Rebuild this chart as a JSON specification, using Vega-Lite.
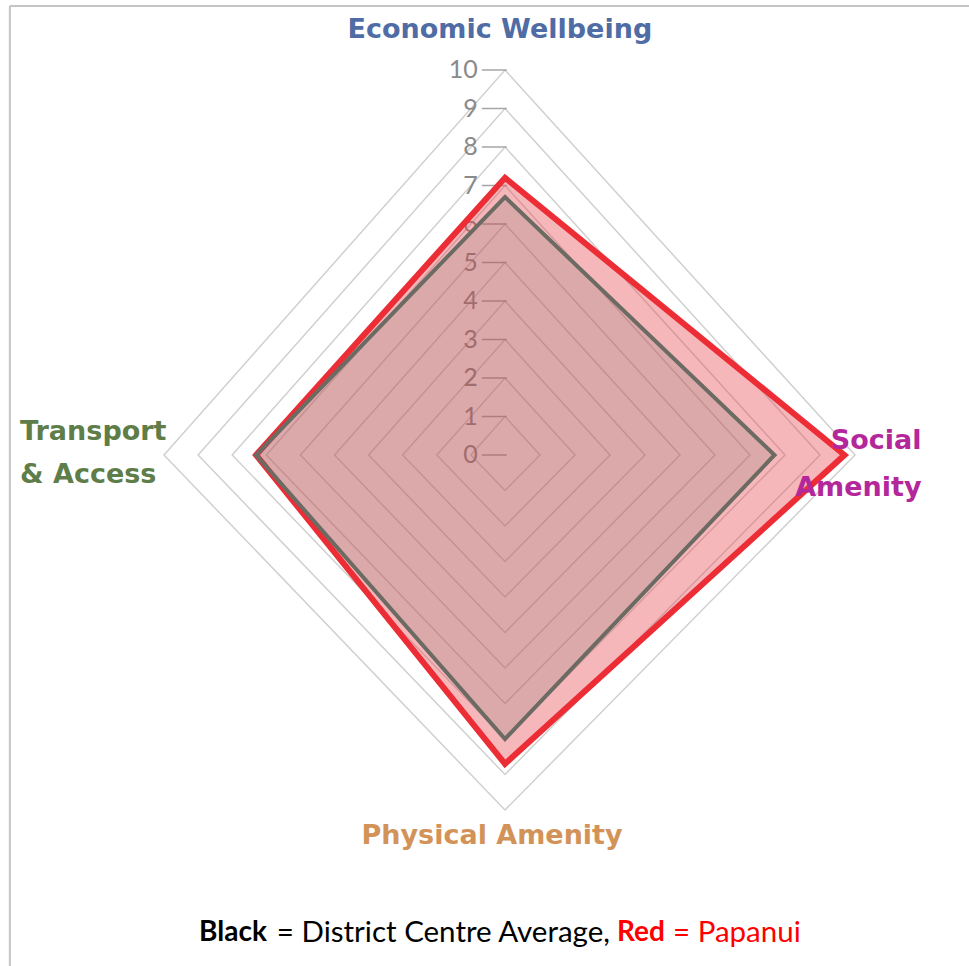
{
  "$schema": "https://vega.github.io/schema/vega-lite/v6.json",
  "width": 969,
  "height": 966,
  "autosize": "none",
  "padding": 0,
  "background": "white",
  "config": {"view": {"stroke": null}},
  "datasets": {
    "scores": [
      {"series": "Papanui", "axis": "Economic Wellbeing", "k": 0, "value": 7.2},
      {"series": "Papanui", "axis": "Social Amenity", "k": 1, "value": 9.7},
      {"series": "Papanui", "axis": "Physical Amenity", "k": 2, "value": 8.7},
      {"series": "Papanui", "axis": "Transport & Access", "k": 3, "value": 7.3},
      {"series": "District Centre Average", "axis": "Economic Wellbeing", "k": 0, "value": 6.7},
      {"series": "District Centre Average", "axis": "Social Amenity", "k": 1, "value": 7.7},
      {"series": "District Centre Average", "axis": "Physical Amenity", "k": 2, "value": 8.0},
      {"series": "District Centre Average", "axis": "Transport & Access", "k": 3, "value": 7.3}
    ],
    "grid": [
      {"level": 1, "k": [0, 1, 2, 3]},
      {"level": 2, "k": [0, 1, 2, 3]},
      {"level": 3, "k": [0, 1, 2, 3]},
      {"level": 4, "k": [0, 1, 2, 3]},
      {"level": 5, "k": [0, 1, 2, 3]},
      {"level": 6, "k": [0, 1, 2, 3]},
      {"level": 7, "k": [0, 1, 2, 3]},
      {"level": 8, "k": [0, 1, 2, 3]},
      {"level": 9, "k": [0, 1, 2, 3]},
      {"level": 10, "k": [0, 1, 2, 3]}
    ],
    "ticks": [
      {"level": 0}, {"level": 1}, {"level": 2}, {"level": 3}, {"level": 4}, {"level": 5},
      {"level": 6}, {"level": 7}, {"level": 8}, {"level": 9}, {"level": 10}
    ],
    "one": [{}]
  },
  "layer": [
    {
      "data": {"name": "grid"},
      "transform": [
        {"flatten": ["k"]},
        {"calculate": "datum.level * sin(datum.k * PI / 2)", "as": "px"},
        {"calculate": "datum.level * cos(datum.k * PI / 2)", "as": "py"}
      ],
      "mark": {"type": "line", "interpolate": "linear-closed", "stroke": "#d0d0d0", "strokeWidth": 1.5},
      "encoding": {
        "x": {"field": "px", "type": "quantitative", "axis": null,
              "scale": {"type": "linear", "domain": [-10, 0, 10], "range": [164, 505, 855], "nice": false, "zero": false}},
        "y": {"field": "py", "type": "quantitative", "axis": null,
              "scale": {"type": "linear", "domain": [-10, 0, 10], "range": [810, 455, 70], "nice": false, "zero": false}},
        "detail": {"field": "level", "type": "nominal"},
        "order": {"field": "k", "type": "quantitative"}
      }
    },
    {
      "data": {"name": "ticks"},
      "mark": {"type": "rule", "stroke": "#a6a6a6", "strokeWidth": 1.5},
      "encoding": {
        "x": {"datum": -0.68, "type": "quantitative"},
        "x2": {"datum": 0.05},
        "y": {"field": "level", "type": "quantitative"}
      }
    },
    {
      "data": {"name": "ticks"},
      "mark": {"type": "text", "align": "right", "baseline": "middle", "font": "Lato", "fontSize": 25, "color": "#8a8a8a"},
      "encoding": {
        "x": {"datum": -0.8, "type": "quantitative"},
        "y": {"field": "level", "type": "quantitative"},
        "text": {"field": "level", "type": "quantitative"}
      }
    },
    {
      "data": {"name": "scores"},
      "transform": [
        {"filter": "datum.series === 'Papanui'"},
        {"calculate": "datum.value * sin(datum.k * PI / 2)", "as": "px"},
        {"calculate": "datum.value * cos(datum.k * PI / 2)", "as": "py"}
      ],
      "mark": {"type": "line", "interpolate": "linear-closed", "fill": "#e8424a", "fillOpacity": 0.38, "stroke": "#ec2d36", "strokeWidth": 6, "strokeJoin": "miter"},
      "encoding": {
        "x": {"field": "px", "type": "quantitative"},
        "y": {"field": "py", "type": "quantitative"},
        "order": {"field": "k", "type": "quantitative"}
      }
    },
    {
      "data": {"name": "scores"},
      "transform": [
        {"filter": "datum.series === 'District Centre Average'"},
        {"calculate": "datum.value * sin(datum.k * PI / 2)", "as": "px"},
        {"calculate": "datum.value * cos(datum.k * PI / 2)", "as": "py"}
      ],
      "mark": {"type": "line", "interpolate": "linear-closed", "fill": "#6b6b63", "fillOpacity": 0.18, "stroke": "#6b6b63", "strokeWidth": 4, "strokeJoin": "miter"},
      "encoding": {
        "x": {"field": "px", "type": "quantitative"},
        "y": {"field": "py", "type": "quantitative"},
        "order": {"field": "k", "type": "quantitative"}
      }
    },
    {
      "data": {"name": "one"},
      "mark": {"type": "text", "align": "center", "baseline": "middle", "font": "DejaVu Sans", "fontWeight": "bold", "fontSize": 27, "color": "#4f6ca4"},
      "encoding": {
        "x": {"datum": -0.15, "type": "quantitative"},
        "y": {"datum": 11.04, "type": "quantitative"},
        "text": {"value": "Economic Wellbeing"}
      }
    },
    {
      "data": {"name": "one"},
      "mark": {"type": "text", "align": "right", "baseline": "middle", "font": "DejaVu Sans", "fontWeight": "bold", "fontSize": 27, "color": "#b4279a", "lineHeight": 47},
      "encoding": {
        "x": {"datum": 11.9, "type": "quantitative"},
        "y": {"datum": 0.36, "type": "quantitative"},
        "text": {"value": ["Social", "Amenity"]}
      }
    },
    {
      "data": {"name": "one"},
      "mark": {"type": "text", "align": "left", "baseline": "middle", "font": "DejaVu Sans", "fontWeight": "bold", "fontSize": 27, "color": "#5e7d48", "lineHeight": 43},
      "encoding": {
        "x": {"datum": -14.22, "type": "quantitative"},
        "y": {"datum": 0.6, "type": "quantitative"},
        "text": {"value": ["Transport", "& Access"]}
      }
    },
    {
      "data": {"name": "one"},
      "mark": {"type": "text", "align": "center", "baseline": "middle", "font": "DejaVu Sans", "fontWeight": "bold", "fontSize": 27, "color": "#d39358"},
      "encoding": {
        "x": {"datum": -0.38, "type": "quantitative"},
        "y": {"datum": -10.73, "type": "quantitative"},
        "text": {"value": "Physical Amenity"}
      }
    },
    {
      "data": {"name": "one"},
      "mark": {"type": "text", "align": "left", "baseline": "middle", "font": "Lato", "fontWeight": "bold", "fontSize": 28, "color": "#000000"},
      "encoding": {
        "x": {"datum": -8.97, "type": "quantitative"},
        "y": {"datum": -13.46, "type": "quantitative"},
        "text": {"value": "Black"}
      }
    },
    {
      "data": {"name": "one"},
      "mark": {"type": "text", "align": "left", "baseline": "middle", "font": "Lato", "fontSize": 29.5, "color": "#000000"},
      "encoding": {
        "x": {"datum": -6.69, "type": "quantitative"},
        "y": {"datum": -13.46, "type": "quantitative"},
        "text": {"value": "= District Centre Average,"}
      }
    },
    {
      "data": {"name": "one"},
      "mark": {"type": "text", "align": "left", "baseline": "middle", "font": "Lato", "fontWeight": "bold", "fontSize": 28, "color": "#ff0000"},
      "encoding": {
        "x": {"datum": 3.2, "type": "quantitative"},
        "y": {"datum": -13.46, "type": "quantitative"},
        "text": {"value": "Red"}
      }
    },
    {
      "data": {"name": "one"},
      "mark": {"type": "text", "align": "left", "baseline": "middle", "font": "Lato", "fontSize": 29.5, "color": "#ff0000"},
      "encoding": {
        "x": {"datum": 4.8, "type": "quantitative"},
        "y": {"datum": -13.46, "type": "quantitative"},
        "text": {"value": "= Papanui"}
      }
    },
    {
      "data": {"name": "one"},
      "mark": {"type": "rule", "stroke": "#c4c4c4", "strokeWidth": 2},
      "encoding": {
        "x": {"datum": -14.52, "type": "quantitative"},
        "x2": {"datum": 13.3},
        "y": {"datum": 11.66, "type": "quantitative"}
      }
    },
    {
      "data": {"name": "one"},
      "mark": {"type": "rule", "stroke": "#c4c4c4", "strokeWidth": 2},
      "encoding": {
        "x": {"datum": -14.52, "type": "quantitative"},
        "y": {"datum": 11.66, "type": "quantitative"},
        "y2": {"datum": -14.4}
      }
    }
  ]
}
